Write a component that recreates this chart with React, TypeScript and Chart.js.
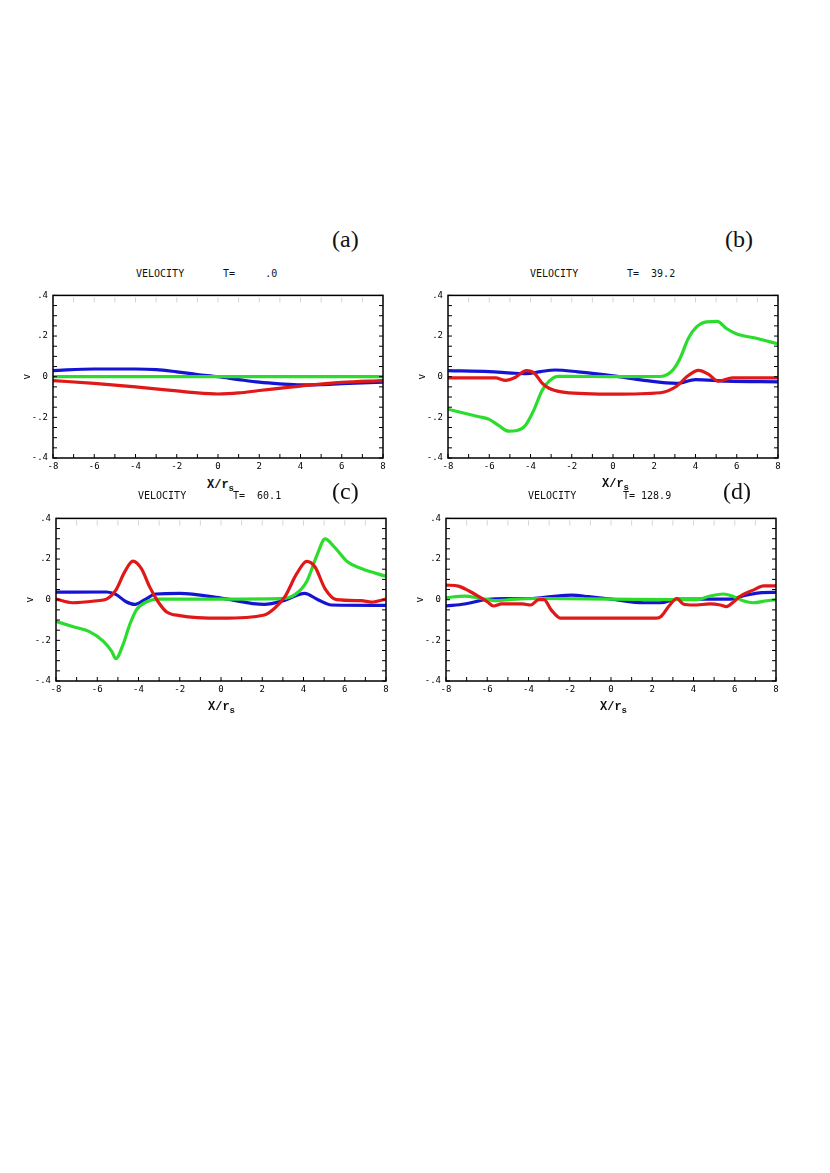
import { useEffect, useRef } from "react";
import { Chart, registerables } from "chart.js";

Chart.register(...registerables);

// panel (a)  T = .0
const aBlueX = [-8, -6, -4, -3, -2, -1, 0, 1, 2, 3, 4, 5, 6, 8];
const aBlueV = [0.03, 0.038, 0.038, 0.035, 0.024, 0.011, 0, -0.014, -0.027, -0.035, -0.04, -0.039, -0.034, -0.027];
const aGreenX = [-8, 0, 8];
const aGreenV = [0, 0, 0];
const aRedX = [-8, -6, -4, -2, -1, 0, 1, 2, 4, 6, 8];
const aRedV = [-0.019, -0.033, -0.05, -0.07, -0.08, -0.085, -0.08, -0.068, -0.046, -0.028, -0.019];

// panel (b)  T = 39.2
const bBlueX = [-8, -6, -4.9, -4.2, -3.5, -2.8, -1.7, 0, 1.5, 3.1, 4.0, 5.5, 8];
const bBlueV = [0.03, 0.025, 0.018, 0.015, 0.025, 0.033, 0.024, 0.004, -0.018, -0.033, -0.014, -0.022, -0.025];
const bGreenX = [-8, -6.5, -6.0, -5.55, -5.05, -4.65, -4.25, -3.85, -3.45, -3.1, -2.65, -2, 0, 2.3, 2.85, 3.25, 3.65, 4.05, 4.55, 5.05, 5.5, 6.0, 7.0, 8];
const bGreenV = [-0.16, -0.197, -0.21, -0.24, -0.268, -0.265, -0.24, -0.167, -0.07, -0.022, 0.002, 0.002, 0, 0.001, 0.027, 0.09, 0.188, 0.245, 0.27, 0.272, 0.237, 0.21, 0.188, 0.161];
const bRedX = [-8, -5.7, -5.2, -4.75, -4.2, -3.8, -3.45, -3.1, -2.5, -1.35, 0, 2.3, 3.1, 3.6, 4.15, 4.6, 5.1, 5.8, 8];
const bRedV = [-0.006, -0.006, -0.018, -0.004, 0.03, 0.016, -0.03, -0.057, -0.075, -0.083, -0.086, -0.079, -0.046, 0.002, 0.031, 0.014, -0.022, -0.006, -0.006];

// panel (c)  T = 60.1
const cBlueX = [-8, -5.55, -5.1, -4.6, -4.2, -3.7, -3.15, -2.0, 0, 2.1, 3.1, 4.05, 4.7, 5.35, 8];
const cBlueV = [0.037, 0.038, 0.026, -0.01, -0.023, 0, 0.028, 0.031, 0.008, -0.023, -0.002, 0.031, 0, -0.026, -0.028];
const cGreenX = [-8, -7.2, -6.4, -5.7, -5.3, -5.1, -4.75, -4.43, -4.1, -3.6, -3.0, 0, 2.9, 3.6, 4.15, 4.65, 5.05, 5.5, 6.15, 6.8, 8];
const cGreenV = [-0.107, -0.132, -0.156, -0.205, -0.254, -0.29, -0.221, -0.124, -0.05, -0.01, 0.003, 0.003, 0.005, 0.026, 0.088, 0.218, 0.299, 0.259, 0.185, 0.153, 0.115];
const cRedX = [-8, -7.2, -6.0, -5.55, -5.1, -4.67, -4.27, -3.86, -3.46, -3.05, -2.65, -2.0, 0, 2.1, 2.6, 3.1, 3.67, 4.16, 4.56, 5.04, 5.6, 6.8, 7.3, 8];
const cRedV = [0.003, -0.015, -0.005, 0.003, 0.047, 0.137, 0.19, 0.153, 0.063, -0.01, -0.059, -0.078, -0.091, -0.075, -0.042, 0.015, 0.128, 0.189, 0.161, 0.055, 0, -0.005, -0.012, 0.003];

// panel (d)  T = 128.9
const dBlueX = [-8, -7.1, -6.1, -5.1, -3.8, -2.9, -1.9, -1.1, 0, 1.6, 2.4, 3.2, 5.8, 6.4, 7.2, 8];
const dBlueV = [-0.031, -0.021, 0, 0.006, 0.006, 0.015, 0.023, 0.015, 0.003, -0.015, -0.015, 0.003, 0.003, 0.018, 0.034, 0.036];
const dGreenX = [-8, -7.1, -6.3, -5.55, -4.8, -3.5, 0, 3.2, 4.15, 4.8, 5.45, 5.95, 6.4, 6.9, 7.55, 8];
const dGreenV = [0.01, 0.018, 0.006, -0.005, 0.002, 0.006, 0.003, 0, 0, 0.018, 0.028, 0.015, -0.005, -0.015, -0.005, 0];
const dRedX = [-8, -7.4, -6.9, -6.4, -6.0, -5.7, -5.3, -4.3, -3.9, -3.5, -3.25, -2.9, -2.45, 0, 2.2, 2.45, 2.85, 3.2, 3.5, 4.0, 4.8, 5.3, 5.6, 5.95, 6.35, 6.9, 7.4, 8];
const dRedV = [0.072, 0.067, 0.044, 0.015, -0.01, -0.031, -0.021, -0.021, -0.026, 0, 0, -0.05, -0.091, -0.091, -0.091, -0.08, -0.026, 0.006, -0.021, -0.026, -0.021, -0.026, -0.034, -0.01, 0.023, 0.047, 0.068, 0.068];

const BLUE = "#1414d2";
const GREEN = "#2cdc2c";
const RED = "#e01818";

const PLOT_W = 330;
const PLOT_H = 165;
const PAD_L = 40; // y axis box
const PAD_T = 8;
const PAD_R = 8;
const PAD_B = 20; // x tick labels

const toPts = (xs: number[], vs: number[]) => xs.map((x, i) => ({ x, y: vs[i] }));

// frame + inward tick marks on all four sides
const frameTicks = {
  id: "frameTicks",
  afterDraw(chart: any) {
    const { ctx, chartArea, scales } = chart;
    const { left, right, top, bottom } = chartArea;
    ctx.save();
    ctx.lineWidth = 1;
    ctx.strokeStyle = "#000";
    ctx.beginPath();
    scales.x.ticks.forEach((t: any) => {
      const px = scales.x.getPixelForValue(t.value);
      ctx.moveTo(px, bottom);
      ctx.lineTo(px, bottom - 4);
    });
    scales.y.ticks.forEach((t: any) => {
      const py = scales.y.getPixelForValue(t.value);
      ctx.moveTo(left, py);
      ctx.lineTo(left + 4, py);
      ctx.moveTo(right, py);
      ctx.lineTo(right - 4, py);
    });
    ctx.stroke();
    // the top ones are only faint in the scan
    ctx.strokeStyle = "#d4d4d4";
    ctx.beginPath();
    scales.x.ticks.forEach((t: any) => {
      const px = scales.x.getPixelForValue(t.value);
      ctx.moveTo(px, top + 2);
      ctx.lineTo(px, top + 7);
    });
    ctx.stroke();
    ctx.lineWidth = 1.5;
    ctx.strokeStyle = "#000";
    ctx.strokeRect(left, top, right - left, bottom - top);
    ctx.restore();
  },
};

interface PanelProps {
  left: number;
  top: number;
  blue: { x: number; y: number }[];
  green: { x: number; y: number }[];
  red: { x: number; y: number }[];
}

const Panel = ({ left, top, blue, green, red }: PanelProps) => {
  const canvasRef = useRef<HTMLCanvasElement | null>(null);

  useEffect(() => {
    if (!canvasRef.current) return;
    const line = (data: any, color: string) => ({
      data,
      borderColor: color,
      borderWidth: 3.2,
      pointRadius: 0,
      fill: false,
      cubicInterpolationMode: "monotone" as const,
    });
    const tickFont = { family: "DejaVu Sans Mono", size: 9 };
    // first dataset is painted last, so red ends up on top like the scan
    const chart = new Chart(canvasRef.current, {
      type: "line",
      data: {
        datasets: [line(red, RED), line(green, GREEN), line(blue, BLUE)],
      },
      plugins: [frameTicks],
      options: {
        animation: false,
        responsive: true,
        maintainAspectRatio: false,
        layout: { padding: { top: PAD_T, right: PAD_R, left: 0, bottom: 0 } },
        plugins: { legend: { display: false }, tooltip: { enabled: false } },
        scales: {
          x: {
            type: "linear",
            min: -8,
            max: 8,
            grid: { display: false, drawTicks: false },
            border: { display: false },
            ticks: {
              stepSize: 1,
              autoSkip: false,
              maxRotation: 0,
              padding: 3,
              color: "#000",
              font: tickFont,
              callback: (v: any) => (Number(v) % 2 === 0 ? String(v) : ""),
            },
            afterFit: (s: any) => {
              s.height = PAD_B;
            },
          },
          y: {
            min: -0.4,
            max: 0.4,
            grid: { display: false, drawTicks: false },
            border: { display: false },
            title: {
              display: true,
              text: "v",
              color: "#000",
              font: { family: "DejaVu Sans Mono", size: 10 },
              padding: { top: 8, bottom: 0 },
            },
            ticks: {
              stepSize: 0.05,
              autoSkip: false,
              padding: 5,
              color: "#000",
              font: tickFont,
              callback: (v: any) => {
                const r = Math.round(Number(v) * 100);
                if (r % 20 !== 0) return "";
                if (r === 0) return "0";
                return (r < 0 ? "-" : "") + "." + Math.abs(r) / 10;
              },
            },
            afterFit: (s: any) => {
              s.width = PAD_L;
            },
          },
        },
      },
    });
    return () => chart.destroy();
  }, [blue, green, red]);

  return (
    <div
      style={{
        position: "absolute",
        left: left - PAD_L,
        top: top - PAD_T,
        width: PAD_L + PLOT_W + PAD_R,
        height: PAD_T + PLOT_H + PAD_B,
      }}
    >
      <canvas ref={canvasRef} />
    </div>
  );
};

const monoSmall = {
  position: "absolute" as const,
  fontFamily: "DejaVu Sans Mono",
  fontSize: 10,
  lineHeight: "10px",
  whiteSpace: "pre" as const,
  color: "#111",
};

const Heading = ({ x, tx, y, t }: { x: number; tx: number; y: number; t: string }) => (
  <>
    <div style={{ ...monoSmall, left: x, top: y }}>VELOCITY</div>
    <div style={{ ...monoSmall, left: tx, top: y }}>{t}</div>
  </>
);

const Tag = ({ x, y, s }: { x: number; y: number; s: string }) => (
  <div
    style={{
      position: "absolute",
      left: x,
      top: y,
      fontFamily: "Liberation Serif",
      fontSize: 24,
      lineHeight: "24px",
      color: "#111",
    }}
  >
    {s}
  </div>
);

const XTitle = ({ x, y }: { x: number; y: number }) => (
  <div
    style={{
      position: "absolute",
      left: x,
      top: y,
      fontFamily: "Liberation Mono",
      fontWeight: "bold",
      fontSize: 12,
      lineHeight: "12px",
      whiteSpace: "pre",
      color: "#111",
    }}
  >
    X/r<span style={{ fontSize: 9, position: "relative", top: 3 }}>s</span>
  </div>
);

const panelA = { blue: toPts(aBlueX, aBlueV), green: toPts(aGreenX, aGreenV), red: toPts(aRedX, aRedV) };
const panelB = { blue: toPts(bBlueX, bBlueV), green: toPts(bGreenX, bGreenV), red: toPts(bRedX, bRedV) };
const panelC = { blue: toPts(cBlueX, cBlueV), green: toPts(cGreenX, cGreenV), red: toPts(cRedX, cRedV) };
const panelD = { blue: toPts(dBlueX, dBlueV), green: toPts(dGreenX, dGreenV), red: toPts(dRedX, dRedV) };

export default function App() {
  return (
    <div style={{ position: "absolute", left: 0, top: 0, width: 830, height: 1173, background: "#fff" }}>
      <Tag x={332} y={227} s="(a)" />
      <Tag x={725} y={227} s="(b)" />
      <Heading x={136} tx={223} y={269} t="T=     .0" />
      <Heading x={530} tx={627} y={269} t="T=  39.2" />
      <Panel left={53} top={293} {...panelA} />
      <Panel left={448} top={293} {...panelB} />
      <XTitle x={207} y={479} />
      <XTitle x={602} y={478} />

      <Tag x={332} y={479} s="(c)" />
      <Tag x={723} y={479} s="(d)" />
      <Heading x={138} tx={233} y={491} t="T=  60.1" />
      <Heading x={528} tx={623} y={491} t="T= 128.9" />
      <Panel left={56} top={516} {...panelC} />
      <Panel left={446} top={516} {...panelD} />
      <XTitle x={208} y={701} />
      <XTitle x={600} y={701} />
    </div>
  );
}
